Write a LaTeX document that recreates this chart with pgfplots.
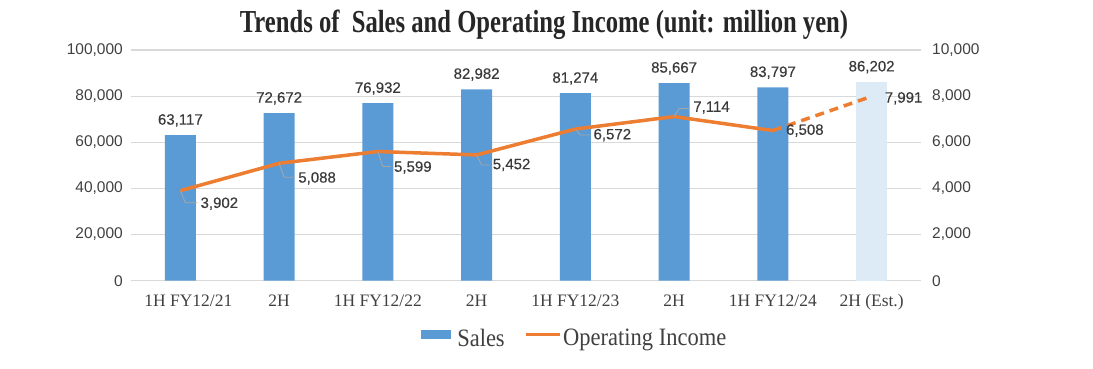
\documentclass[border=0pt]{standalone}
\usepackage{pgfplots}
\pgfplotsset{compat=1.18}
\usepackage{pgfplotstable}
\usepackage{fontspec}
\setmainfont{Liberation Serif}
\newfontfamily\arial{Liberation Sans}
\newfontfamily\arialmed[FakeBold=0.4]{Liberation Sans}
\definecolor{barblue}{HTML}{5B9BD5}
\definecolor{estblue}{HTML}{DDEBF7}
\definecolor{lineorange}{HTML}{ED7D31}
\definecolor{gridgray}{HTML}{D9D9D9}
\definecolor{txtgray}{HTML}{404040}
\definecolor{lblgray}{HTML}{3A3A3A}
\definecolor{leadgray}{HTML}{A6A6A6}

\pgfplotstableread{
x sales
0 63117
1 72672
2 76932
3 82982
4 81274
5 85667
6 83797
}\salestable
\pgfplotstableread{
x sales
7 86202
}\esttable
\pgfplotstableread{
x inc
0 3902
1 5088
2 5599
3 5452
4 6572
5 7114
6 6508
}\inctable
\pgfplotstableread{
x inc
6 6508
7 7991
}\incesttable
\pgfplotstableread{
x inc dx dy
0 3902 19 -13
1 5088 18 -15
2 5599 15 -16
3 5452 15 -10
4 6572 17 -6
5 7114 18 9
6 6508 12 0
7 7991 12 -2
}\inclabels

\newcommand{\leader}[4]{%
  \draw[leadgray, line width=0.8pt] (axis cs:#1,#2) -- ([shift={(5pt,#4pt)}]axis cs:#1,#2) -- ([shift={(#3pt,#4pt)}]axis cs:#1,#2);}

\begin{document}
\begin{tikzpicture}
\useasboundingbox (0,0) rectangle (1093pt,369pt);
\node[anchor=base, inner sep=0pt, text=black!85] at (544pt,336pt) {\scalebox{0.77}[1]{\fontsize{32}{32}\selectfont\bfseries Trends of~ Sales and Operating Income (unit: million yen)}};

\begin{axis}[
  at={(131pt,88.3pt)}, anchor=south west, scale only axis,
  width=790pt, height=230.7pt,
  xmin=-0.5, xmax=7.5, ymin=0, ymax=100000,
  ybar, bar width=31pt, bar shift=0pt,
  axis line style={draw=none}, tick style={draw=none}, major tick length=0pt,
  ytick={0,20000,...,100000},
  ymajorgrids, grid style={draw=gridgray, line width=1.2pt},
  scaled y ticks=false,
  /pgf/number format/.cd, fixed, 1000 sep={,}, assume math mode=true, /pgfplots/.cd,
  yticklabel style={font=\arial\fontsize{15.5}{15.5}\selectfont, text=txtgray, inner xsep=0pt, xshift=-8pt},
  xtick={0,...,7},
  xticklabels={\hspace*{16pt}1H FY12/21, 2H, 1H FY12/22, 2H, 1H FY12/23, 2H, 1H FY12/24, 2H (Est.)},
  xticklabel style={font=\fontsize{17.5}{17.5}\selectfont, text=txtgray, text height=12pt, text depth=4pt, inner ysep=0pt, yshift=-13.5pt},
  nodes near coords,
  every node near coord/.append style={font=\arialmed\fontsize{15}{15}\selectfont, text=lblgray, yshift=5pt},
]
\addplot[fill=barblue, draw=none] table[x=x,y=sales] \salestable;
\addplot[fill=estblue, draw=none] table[x=x,y=sales] \esttable;
\end{axis}

\begin{axis}[
  at={(131pt,88.3pt)}, anchor=south west, scale only axis,
  width=790pt, height=230.7pt,
  xmin=-0.5, xmax=7.5, ymin=0, ymax=10000,
  axis x line=none, axis y line*=right,
  axis line style={draw=none}, tick style={draw=none}, major tick length=0pt,
  ytick={0,2000,...,10000},
  scaled y ticks=false,
  /pgf/number format/.cd, fixed, 1000 sep={,}, assume math mode=true, /pgfplots/.cd,
  yticklabel style={font=\arial\fontsize{15.5}{15.5}\selectfont, text=txtgray, inner xsep=0pt, xshift=11pt},
  legend columns=2,
  legend style={at={(0.5615,-0.249)}, anchor=center, draw=none, fill=none,
    font=\fontsize{25}{25}\selectfont, text=txtgray,
    /tikz/every even column/.append style={column sep=18pt}},
  legend cell align=left,
]
\addlegendimage{legend image code/.code={\fill[barblue] (0pt,-0.5pt) rectangle (29pt,7.5pt);}}
\addlegendentry{\hspace*{5pt}\scalebox{0.9}[1]{Sales}}
\addplot[lineorange, line width=3.5pt, line join=round,
  legend image code/.code={\draw[lineorange, line width=2.5pt] (0pt,3.5pt) -- (34pt,3.5pt);}]
  table[x=x,y=inc] \inctable;
\addlegendentry{\scalebox{0.9}[1]{Operating Income}}
\addplot[lineorange, line width=3.5pt, dash pattern=on 9pt off 6pt, forget plot] table[x=x,y=inc] \incesttable;
\addplot[draw=none, mark=none, forget plot, nodes near coords,
  visualization depends on={\thisrow{dx} \as \dx},
  visualization depends on={\thisrow{dy} \as \dy},
  every node near coord/.append style={anchor=west, inner xsep=1pt, xshift=\dx pt, yshift=\dy pt,
    font=\arialmed\fontsize{15}{15}\selectfont, text=lblgray}]
  table[x=x,y=inc] \inclabels;
\leader{0}{3902}{17}{-12}
\leader{1}{5088}{16}{-14}
\leader{2}{5599}{13}{-15}
\leader{3}{5452}{13}{-10}
\leader{4}{6572}{15}{-6}
\leader{5}{7114}{16}{8}
\end{axis}
\end{tikzpicture}
\end{document}
